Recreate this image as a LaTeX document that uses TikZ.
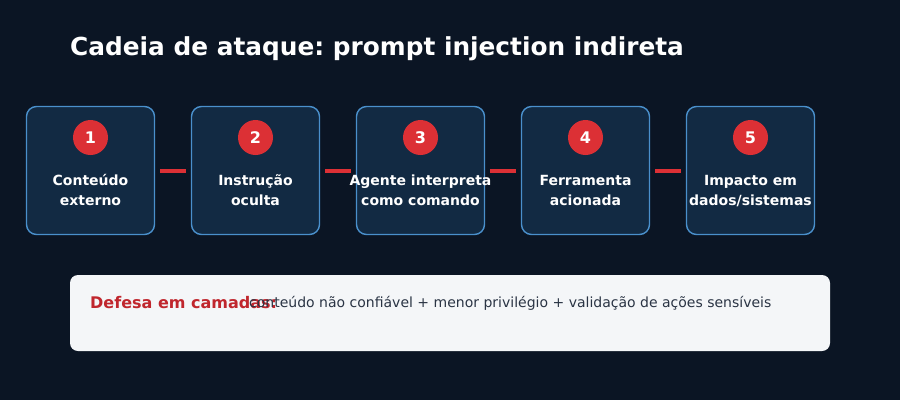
\documentclass[tikz,border=0pt]{standalone}
\usepackage{fontspec}
\setmainfont{DejaVu Sans}
\frenchspacing
\definecolor{bg}{HTML}{0B1524}
\definecolor{boxfill}{HTML}{122A43}
\definecolor{boxline}{HTML}{4A90CC}
\definecolor{redc}{HTML}{DC3035}
\definecolor{panel}{HTML}{F4F6F8}
\definecolor{redtxt}{HTML}{C0262D}
\definecolor{darktxt}{HTML}{2A3444}
\begin{document}
\begin{tikzpicture}[x=1pt,y=-1pt,
  stepbox/.style={draw=boxline,fill=boxfill,line width=1.4pt,rounded corners=10pt,minimum width=128pt,minimum height=128pt,inner sep=0pt},
  numdot/.style={circle,fill=redc,minimum size=35pt,inner sep=0pt,text=white,font=\fontsize{16}{18}\selectfont\bfseries},
  steplabel/.style={text=white,align=center,font=\fontsize{14}{20}\selectfont\bfseries,anchor=base},
  link/.style={draw=redc,line width=4pt}]
\fill[bg] (0,0) rectangle (900,400);
\useasboundingbox (0,0) rectangle (900,400);
\node[anchor=base west,text=white,font=\fontsize{24.8}{28}\selectfont\bfseries,inner sep=0pt] (title) at (70,55) {Cadeia de ataque: prompt injection indireta};
\foreach \i/\la/\lb in {1/Conteúdo/externo,2/Instrução/oculta,3/Agente interpreta/como comando,4/Ferramenta/acionada,5/Impacto em/{dados/sistemas}}{
  \pgfmathsetmacro{\cx}{90.5+165*(\i-1)}
  \node[stepbox] (b\i) at (\cx,170.5) {};
  \node[numdot] (n\i) at (\cx,137.5) {\i};
  \node[steplabel,inner sep=0pt] (la\i) at (\cx,185) {\la};
  \node[steplabel,inner sep=0pt] (lb\i) at (\cx,205) {\lb};
}
\foreach \i/\j in {1/2,2/3,3/4,4/5}{
  \draw[link] ([xshift=5pt]b\i.east) -- ([xshift=-5pt]b\j.west);
}
\node[fill=panel,rounded corners=8pt,minimum width=760pt,minimum height=76pt,inner sep=0pt] (panel) at (450,313) {};
\node[anchor=base west,inner sep=0pt,text=redtxt,font=\fontsize{16}{18}\selectfont\bfseries] (def) at (90,308.5) {Defesa em camadas:};
\node[anchor=base west,inner sep=0pt,text=darktxt,font=\fontsize{14}{16}\selectfont] (deftxt) at (249,307) {conteúdo não confiável + menor privilégio + validação de ações sensíveis};
\end{tikzpicture}
\end{document}
